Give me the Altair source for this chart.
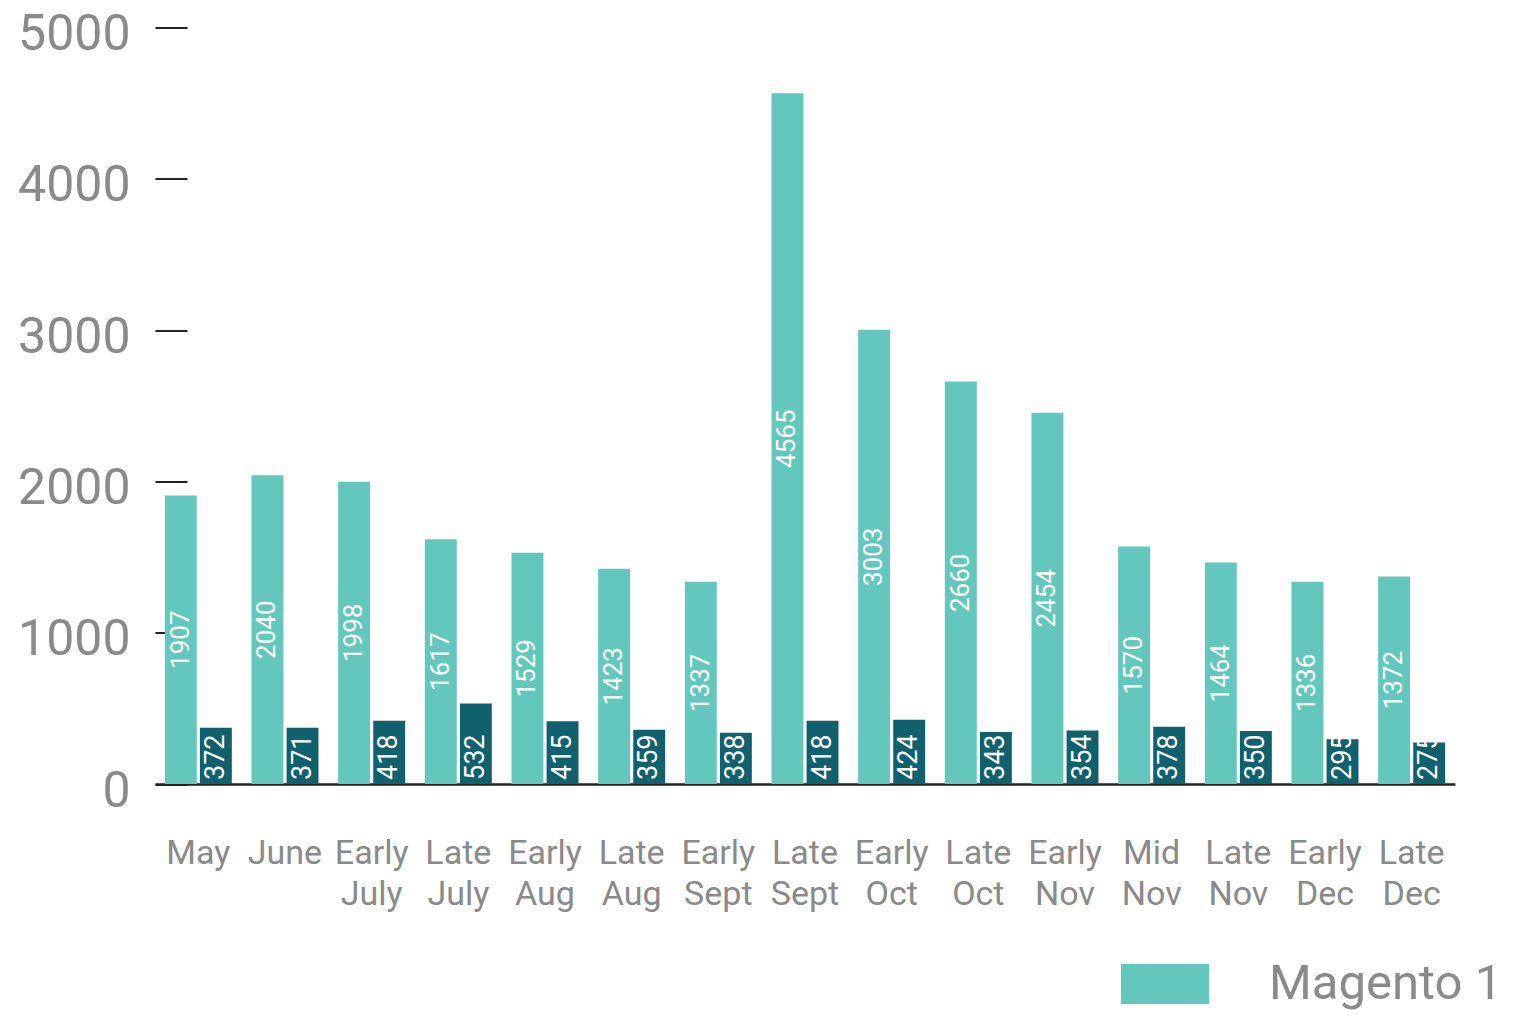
import altair as alt
import pandas as pd

categories = ["May", "June", "Early July", "Late July", "Early Aug", "Late Aug",
              "Early Sept", "Late Sept", "Early Oct", "Late Oct", "Early Nov",
              "Mid Nov", "Late Nov", "Early Dec", "Late Dec"]
magento1 = [1907, 2040, 1998, 1617, 1529, 1423, 1337, 4565, 3003, 2660, 2454,
            1570, 1464, 1336, 1372]
magento2 = [372, 371, 418, 532, 415, 359, 338, 418, 424, 343, 354, 378, 350,
            295, 275]
series = ["Magento 1", "Magento 2"]
colors = ["#63C7BE", "#10606E"]
y_ticks = [0, 1000, 2000, 3000, 4000, 5000]

rows = []
for c, a, b in zip(categories, magento1, magento2):
    rows.append({"period": c, "series": series[0], "value": a, "half": a / 2})
    rows.append({"period": c, "series": series[1], "value": b, "half": b / 2})
df = pd.DataFrame(rows)

GRAY = "#8A8A8A"
DARK = "#222222"

x_scale = alt.Scale(paddingInner=0.227, paddingOuter=0.1135, round=False)
x_enc = alt.X("period:N", sort=categories, title=None, scale=x_scale,
              axis=alt.Axis(labelExpr="split(datum.label, ' ')",
                            labelAngle=0, labelFontSize=34, labelColor=GRAY,
                            labelFont="Roboto", labelLineHeight=41,
                            labelPadding=52, ticks=False, domainColor=DARK,
                            domainWidth=2.5, zindex=0))
xoff = alt.XOffset("series:N", sort=series,
                   scale=alt.Scale(paddingInner=0.09, paddingOuter=0,
                                   round=False))

base = alt.Chart(df)

bars = base.mark_bar().encode(
    x=x_enc,
    xOffset=xoff,
    y=alt.Y("value:Q", title=None,
            scale=alt.Scale(domain=[0, 5000], nice=False),
            axis=alt.Axis(values=y_ticks, format="d",
                          offset=-32, tickSize=32, tickColor=DARK,
                          tickWidth=2, domain=False, grid=False,
                          labelFontSize=50, labelColor=GRAY,
                          labelFont="Roboto", labelPadding=25,
                          labelOffset=7, zindex=0)),
    color=alt.Color("series:N", sort=series,
                    scale=alt.Scale(domain=series, range=colors),
                    legend=alt.Legend(values=["Magento 1"], title=None,
                                      orient="none", legendX=966,
                                      legendY=912.5, padding=0,
                                      symbolType="M-1,-0.4545H1V0.4545H-1Z",
                                      symbolSize=7744, symbolStrokeWidth=0,
                                      symbolOpacity=1, labelLimit=400,
                                      labelFontSize=49, labelColor=GRAY,
                                      labelFont="Roboto", labelOffset=60)),
)

light_text = base.transform_filter(
    alt.datum.series == "Magento 1"
).mark_text(angle=270, color="white", fontSize=26, font="Roboto",
            align="center", baseline="middle").encode(
    x=alt.X("period:N", sort=categories),
    xOffset=xoff,
    y=alt.Y("half:Q"),
    text=alt.Text("value:Q"),
)

dark_text = base.transform_filter(
    alt.datum.series == "Magento 2"
).mark_text(angle=270, color="white", fontSize=27, font="Roboto",
            align="left", baseline="middle", dx=4).encode(
    x=alt.X("period:N", sort=categories),
    xOffset=xoff,
    y=alt.datum(0),
    text=alt.Text("value:Q"),
)

chart = alt.layer(bars, light_text, dark_text).properties(
    width=1300, height=756.5,
    autosize=alt.AutoSizeParams(type="none"),
    padding={"left": 147, "top": 19.5, "right": 50, "bottom": 230},
).configure_view(stroke=None)

chart.save("out.html", embed_options={"renderer": "svg", "actions": False})
